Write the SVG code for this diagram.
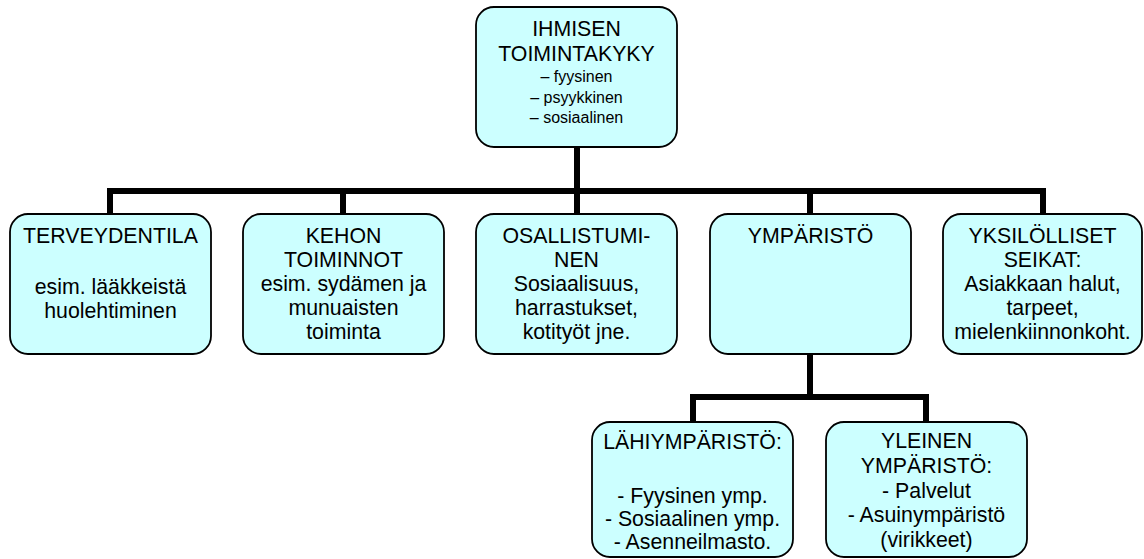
<svg xmlns="http://www.w3.org/2000/svg" width="1144" height="559" viewBox="0 0 1144 559">
<style>
.box{fill:#CCFFFF;stroke:#000;stroke-width:1.8}
.t{font-family:"Liberation Sans",Arial,sans-serif;font-size:21.3px;fill:#000;text-anchor:middle}
.s{font-size:16px}
.conn{fill:none;stroke:#000;stroke-width:6;stroke-linejoin:miter;stroke-linecap:butt}
</style>
<rect width="1144" height="559" fill="#fff"/>
<g id="connectors">
<path class="conn" d="M577 147V191M110 214V191H1043V214M343 191V214M577 191V214M810 191V214"/>
<path class="conn" d="M810 354V397M693 422V397H926V422"/>
</g>
<g id="n-ihminen">
<rect class="box" x="476" y="7" width="201" height="140" rx="18"/>
<text class="t" x="576.5" y="36">IHMISEN</text>
<text class="t" x="576.5" y="61">TOIMINTAKYKY</text>
<text class="t s" x="576.5" y="82">– fyysinen</text>
<text class="t s" x="576.5" y="102.5">– psyykkinen</text>
<text class="t s" x="576.5" y="123">– sosiaalinen</text>
</g>
<g id="n-terveydentila">
<rect class="box" x="10" y="214" width="201" height="140" rx="18"/>
<text class="t" x="110.5" y="243">TERVEYDENTILA</text>
<text class="t" x="110.5" y="294">esim. lääkkeistä</text>
<text class="t" x="110.5" y="318">huolehtiminen</text>
</g>
<g id="n-kehon">
<rect class="box" x="243" y="214" width="201" height="140" rx="18"/>
<text class="t" x="343.5" y="243">KEHON</text>
<text class="t" x="343.5" y="267">TOIMINNOT</text>
<text class="t" x="343.5" y="291">esim. sydämen ja</text>
<text class="t" x="343.5" y="315">munuaisten</text>
<text class="t" x="343.5" y="339">toiminta</text>
</g>
<g id="n-osallistuminen">
<rect class="box" x="476" y="214" width="201" height="140" rx="18"/>
<text class="t" x="576.5" y="243">OSALLISTUMI-</text>
<text class="t" x="576.5" y="267">NEN</text>
<text class="t" x="576.5" y="291">Sosiaalisuus,</text>
<text class="t" x="576.5" y="315">harrastukset,</text>
<text class="t" x="576.5" y="339">kotityöt jne.</text>
</g>
<g id="n-ymparisto">
<rect class="box" x="710" y="214" width="201" height="140" rx="18"/>
<text class="t" x="810.5" y="243">YMPÄRISTÖ</text>
</g>
<g id="n-yksilolliset">
<rect class="box" x="943" y="214" width="199" height="140" rx="18"/>
<text class="t" x="1042.5" y="243">YKSILÖLLISET</text>
<text class="t" x="1042.5" y="267">SEIKAT:</text>
<text class="t" x="1042.5" y="291">Asiakkaan halut,</text>
<text class="t" x="1042.5" y="315">tarpeet,</text>
<text class="t" x="1042.5" y="339">mielenkiinnonkoht.</text>
</g>
<g id="n-lahiymparisto">
<rect class="box" x="592" y="422" width="201" height="135" rx="18"/>
<text class="t" x="692.5" y="449">LÄHIYMPÄRISTÖ:</text>
<text class="t" x="692.5" y="503">- Fyysinen ymp.</text>
<text class="t" x="692.5" y="526">- Sosiaalinen ymp.</text>
<text class="t" x="692.5" y="549">- Asenneilmasto.</text>
</g>
<g id="n-yleinen">
<rect class="box" x="826" y="422" width="201" height="135" rx="18"/>
<text class="t" x="926.5" y="448">YLEINEN</text>
<text class="t" x="926.5" y="473">YMPÄRISTÖ:</text>
<text class="t" x="926.5" y="498">- Palvelut</text>
<text class="t" x="926.5" y="522">- Asuinympäristö</text>
<text class="t" x="926.5" y="547">(virikkeet)</text>
</g>
</svg>
